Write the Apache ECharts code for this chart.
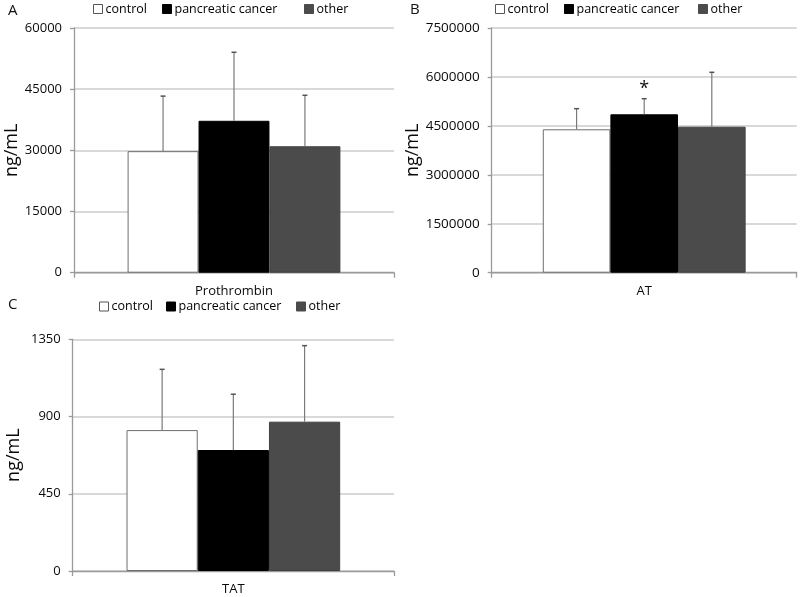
<!DOCTYPE html>
<html>
<head>
<meta charset="utf-8">
<script src="https://cdn.jsdelivr.net/npm/echarts@6/dist/echarts.min.js"></script>
<style>
html,body{margin:0;padding:0;background:#fff;}
#chart{width:800px;height:597px;}
</style>
</head>
<body>
<div id="chart"></div>
<script>
// ---- data ----
const groups = ['control', 'pancreatic cancer', 'other'];
const catA = ['Prothrombin'];
const catB = ['AT'];
const catC = ['TAT'];
const prothrombinMean = [29800, 37250, 31000];
const prothrombinSD   = [13500, 16800, 12500];
const atMean = [4395000, 4855000, 4475000];
const atSD   = [632000, 478000, 1667000];
const atSig  = ['', '*', ''];
const tatMean = [821, 705, 870];
const tatSD   = [354, 325, 443];
const ticksA = [0, 15000, 30000, 45000, 60000];
const ticksB = [0, 1500000, 3000000, 4500000, 6000000, 7500000];
const ticksC = [0, 450, 900, 1350];

// ---- style ----
const FONT = 'Open Sans';
const fills = ['#ffffff', '#000000', '#4b4b4b'];
const borders = ['#6e6e6e', '#000000', '#404040'];
const CAT_GAP = 0.335;

const chart = echarts.init(document.getElementById('chart'));

function xAxisCfg(gridIndex, cats) {
  return {
    type: 'category', gridIndex, data: cats, boundaryGap: true,
    axisLine: { show: true, lineStyle: { color: '#9a9a9a', width: 1.3 } },
    axisTick: { show: true, length: 5, lineStyle: { color: '#9a9a9a', width: 1.3 } },
    axisLabel: { color: '#0a0a0a', fontFamily: FONT, fontSize: 13, margin: 12 },
    splitLine: { show: false }
  };
}
function yAxisCfg(gridIndex, ticks, nameGap, fs) {
  return {
    type: 'value', gridIndex, min: ticks[0], max: ticks[ticks.length - 1],
    interval: ticks[1] - ticks[0],
    name: 'ng/mL', nameLocation: 'middle', nameRotate: 90, nameGap,
    nameTextStyle: { fontFamily: FONT, fontSize: 18, color: '#0a0a0a' },
    axisLine: { show: true, lineStyle: { color: '#9a9a9a', width: 1.3 } },
    axisTick: { show: true, length: 4, lineStyle: { color: '#9a9a9a', width: 1.3 } },
    axisLabel: { color: '#0a0a0a', fontFamily: FONT, fontSize: fs, margin: 12, formatter: v => String(v) },
    splitLine: { show: true, lineStyle: { color: '#cdcdcd', width: 1.5 } }
  };
}
function barSeries(idx, means) {
  return groups.map((g, i) => ({
    type: 'bar', name: g, xAxisIndex: idx, yAxisIndex: idx,
    data: [means[i]], barGap: '0%', barCategoryGap: (CAT_GAP * 100) + '%',
    itemStyle: { color: fills[i], borderColor: borders[i], borderWidth: 1 },
    emphasis: { disabled: true }, z: 2
  }));
}
function errSeries(idx, means, sds, sig) {
  const data = means.map((m, i) => [0, i, m, m + sds[i], (sig && sig[i]) || '']);
  return {
    type: 'custom', xAxisIndex: idx, yAxisIndex: idx, z: 5, silent: true,
    encode: { x: 0, y: 3 },
    data,
    renderItem: function (params, api) {
      const gi = api.value(1);
      const center = api.coord([api.value(0), 0]);
      const band = api.size([1, 0])[0];
      const bw = band * (1 - CAT_GAP) / 3;
      const x = center[0] + (gi - 1) * bw;
      const y0 = api.coord([0, api.value(2)])[1];
      const y1 = api.coord([0, api.value(3)])[1];
      const st = { stroke: '#7a7a7a', lineWidth: 1.2 };
      const children = [
        { type: 'line', shape: { x1: x, y1: y0, x2: x, y2: y1 }, style: st },
        { type: 'line', shape: { x1: x - 2.5, y1: y1, x2: x + 2.5, y2: y1 }, style: { stroke: '#555', lineWidth: 1.5 } }
      ];
      const s = api.value(4);
      if (s) {
        children.push({ type: 'text', style: { text: s, x: x, y: y1 - 10, align: 'center', verticalAlign: 'middle', font: '18px "' + FONT + '"', fill: '#111' } });
      }
      return { type: 'group', children };
    }
  };
}
function legendItem(name, i, left, top) {
  return {
    left, top, padding: 0, itemWidth: 9, itemHeight: 9, itemGap: 0, icon: 'rect',
    selectedMode: false,
    textStyle: { fontFamily: FONT, fontSize: 12.5, lineHeight: 16, color: '#000', padding: [0, 0, 0, -2] },
    data: [{ name, itemStyle: { color: fills[i], borderColor: i === 0 ? '#555' : fills[i], borderWidth: 1 } }]
  };
}
const legendPos = [
  [[93, 162, 304], 1],
  [[495, 564, 698], 1],
  [[99, 166, 296], 298.5]
];
const legends = [];
legendPos.forEach(([xs, top]) => {
  groups.forEach((g, i) => legends.push(legendItem(g, i, xs[i], top)));
});

const titleStyle = { fontFamily: FONT, fontSize: 15, fontWeight: 'normal', color: '#111' };
const option = {
  animation: false,
  backgroundColor: '#fff',
  title: [
    { text: 'A', left: 8, top: 3, padding: 0, textStyle: titleStyle },
    { text: 'B', left: 410, top: 2, padding: 0, textStyle: titleStyle },
    { text: 'C', left: 8, top: 297, padding: 0, textStyle: titleStyle }
  ],
  legend: legends,
  grid: [
    { left: 74, right: 406, top: 28, bottom: 324.3 },
    { left: 491.7, right: 3.3, top: 28, bottom: 324.3 },
    { left: 72.7, right: 406, top: 339.3, bottom: 26 }
  ],
  xAxis: [xAxisCfg(0, catA), xAxisCfg(1, catB), xAxisCfg(2, catC)],
  yAxis: [yAxisCfg(0, ticksA, 52, 13), yAxisCfg(1, ticksB, 70, 13.5), yAxisCfg(2, ticksC, 50, 13)],
  series: [
    ...barSeries(0, prothrombinMean), errSeries(0, prothrombinMean, prothrombinSD),
    ...barSeries(1, atMean), errSeries(1, atMean, atSD, atSig),
    ...barSeries(2, tatMean), errSeries(2, tatMean, tatSD)
  ]
};
chart.setOption(option);
</script>
</body>
</html>
